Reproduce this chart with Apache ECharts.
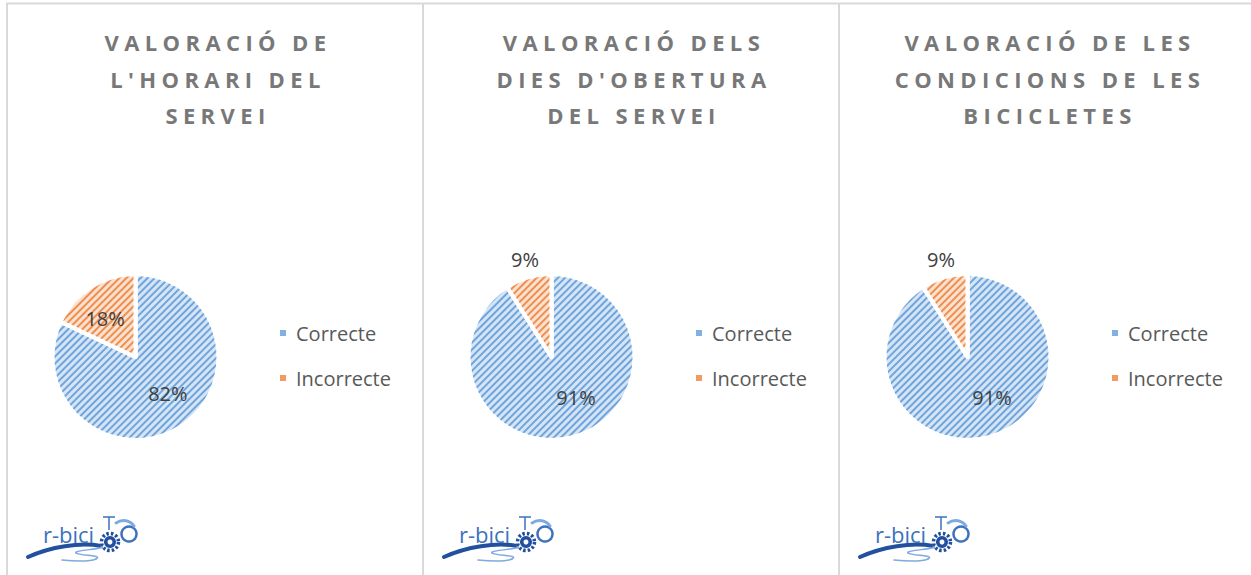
<!DOCTYPE html>
<html>
<head>
<meta charset="utf-8">
<script src="https://cdn.jsdelivr.net/npm/echarts@6/dist/echarts.min.js"></script>
<style>
  html, body { margin: 0; padding: 0; background: #fff; }
  #chart { width: 1251px; height: 575px; }
  /* espacement des lettres des titres (rendu svg) */
  #chart text[style*="bold"] { letter-spacing: 5.4px; }
</style>
</head>
<body>
<div id="chart"></div>
<script>
// Données
const CATEGORIES = ['Correcte', 'Incorrecte'];
const TITLES = [
  "VALORACIÓ DE\nL'HORARI DEL\nSERVEI",
  "VALORACIÓ DELS\nDIES D'OBERTURA\nDEL SERVEI",
  "VALORACIÓ DE LES\nCONDICIONS DE LES\nBICICLETES",
];
const VALUES_HORARI = [82, 18];
const VALUES_DIES = [91, 9];
const VALUES_BICIS = [91, 9];
const LOGO_TEXT = 'r-bici';

// Mise en page
const PANEL_LEFT = [7, 423, 839];
const PIE_R = 83;
const PIE_CY = 357;
// position des étiquettes : [rayon relatif, décalage angulaire en degrés]
const LABEL_POLAR = [
  [[0.59, -9], [0.59, -6]],
  [[0.57, -15], [1.22, 1]],
  [[0.57, -15], [1.22, 1]],
];
const FONT = '"Open Sans", "Liberation Sans", sans-serif';

const FILLS = [
  { base: '#d6e5f6', stripe: '#6fa5dc', legend: '#80b1e3' },
  { base: '#fbe2d0', stripe: '#ef8e4e', legend: '#f29a62' },
];

function hatch(c) {
  return {
    color: c.base,
    borderColor: '#fff',
    borderWidth: 4,
    decal: {
      symbol: 'rect',
      symbolSize: 1,
      dashArrayX: [1, 0],
      dashArrayY: [2, 2.4],
      rotation: -Math.PI / 4,
      color: c.stripe,
    },
  };
}

function labelMover(cx, cy, polar) {
  return function (p) {
    const lr = p.labelRect;
    const lx = lr.x + lr.width / 2;
    const ly = lr.y + lr.height / 2;
    const a = Math.atan2(ly - cy, lx - cx) + polar[p.dataIndex][1] * Math.PI / 180;
    const want = polar[p.dataIndex][0] * PIE_R;
    return { dx: cx + Math.cos(a) * want - lx, dy: cy + Math.sin(a) * want - ly };
  };
}

function makeSeries(values, i) {
  const L = PANEL_LEFT[i];
  const cx = L + 128.5;
  return {
    type: 'pie',
    name: 'pie' + i,
    center: [cx, PIE_CY],
    radius: PIE_R,
    startAngle: 90,
    clockwise: true,
    silent: true,
    label: {
      show: true,
      position: 'inside',
      formatter: p => Math.round(p.percent) + '%',
      color: '#404040',
      fontSize: 20,
      fontFamily: FONT,
    },
    labelLine: { show: false },
    labelLayout: labelMover(cx, PIE_CY, LABEL_POLAR[i]),
    data: CATEGORIES.map((name, k) => ({
      name,
      value: values[k],
      itemStyle: hatch(FILLS[k]),
    })),
  };
}

function bez(ox, p, style) {
  return {
    type: 'bezierCurve',
    shape: {
      x1: ox + p[0], y1: p[1], cpx1: ox + p[2], cpy1: p[3],
      cpx2: ox + p[4], cpy2: p[5], x2: ox + p[6], y2: p[7],
    },
    style: Object.assign({ fill: null, lineCap: 'round' }, style),
  };
}

function makeLogo(ox) {
  const dark = '#23509e';
  const mid = '#3d72bd';
  const light = '#7eaadf';
  return [
    bez(ox, [28, 557, 50, 547, 80, 542, 101, 546], { stroke: dark, lineWidth: 4 }),
    bez(ox, [101, 546, 110, 549, 72, 550, 76, 553], { stroke: light, lineWidth: 1.5 }),
    bez(ox, [76, 553, 80, 556, 104, 555, 96, 559], { stroke: light, lineWidth: 1.5 }),
    bez(ox, [96, 559, 89, 562, 72, 561, 62, 560], { stroke: light, lineWidth: 1.5 }),
    { type: 'text', x: ox + 43, y: 534,
      style: { text: LOGO_TEXT, fill: mid, font: `normal 22px ${FONT}`, verticalAlign: 'middle' } },
    { type: 'circle', shape: { cx: ox + 110, cy: 542, r: 8.5 },
      style: { fill: null, stroke: dark, lineWidth: 3.5, lineDash: [2.5, 2] } },
    { type: 'circle', shape: { cx: ox + 110, cy: 542, r: 6 }, style: { fill: dark } },
    { type: 'circle', shape: { cx: ox + 110, cy: 542, r: 2.5 }, style: { fill: '#fff' } },
    { type: 'line', shape: { x1: ox + 103, y1: 517, x2: ox + 115, y2: 517 }, style: { stroke: mid, lineWidth: 1.5 } },
    { type: 'line', shape: { x1: ox + 109, y1: 517, x2: ox + 109, y2: 530 }, style: { stroke: mid, lineWidth: 1.5 } },
    { type: 'circle', shape: { cx: ox + 129, cy: 534, r: 7.5 },
      style: { fill: null, stroke: mid, lineWidth: 2.5 } },
    bez(ox, [116, 523, 122, 519, 130, 520, 134, 526], { stroke: light, lineWidth: 3 }),
  ];
}

const borderStyle = { stroke: '#d9d9d9', lineWidth: 2 };
const graphics = [
  { type: 'line', shape: { x1: 6, y1: 3.5, x2: 1251, y2: 3.5 }, style: borderStyle },
  ...PANEL_LEFT.map(x => ({ type: 'line', shape: { x1: x, y1: 3, x2: x, y2: 575 }, style: borderStyle })),
  ...PANEL_LEFT.flatMap(x => makeLogo(x - 7)),
];

const option = {
  backgroundColor: '#fff',
  animation: false,
  title: TITLES.map((t, i) => ({
    text: t,
    left: PANEL_LEFT[i] + 206,
    top: 19,
    textAlign: 'center',
    textStyle: {
      color: '#787878',
      fontSize: 22,
      fontWeight: 'bold',
      fontFamily: FONT,
      lineHeight: 36.5,
    },
  })),
  legend: PANEL_LEFT.map((L, i) => ({
    orient: 'vertical',
    left: L + 266,
    top: 318,
    icon: 'rect',
    itemWidth: 8,
    itemHeight: 8,
    itemGap: 25,
    selectedMode: false,
    data: CATEGORIES.map((name, k) => ({
      name,
      itemStyle: { color: FILLS[k].legend, decal: 'none' },
    })),
    textStyle: { fontSize: 20, color: '#595959', fontFamily: FONT, padding: [0, 0, 0, 4] },
  })),
  graphic: graphics,
  series: [VALUES_HORARI, VALUES_DIES, VALUES_BICIS].map(makeSeries),
};

const chart = echarts.init(document.getElementById('chart'), null, { renderer: 'svg' });
chart.setOption(option);
</script>
</body>
</html>
